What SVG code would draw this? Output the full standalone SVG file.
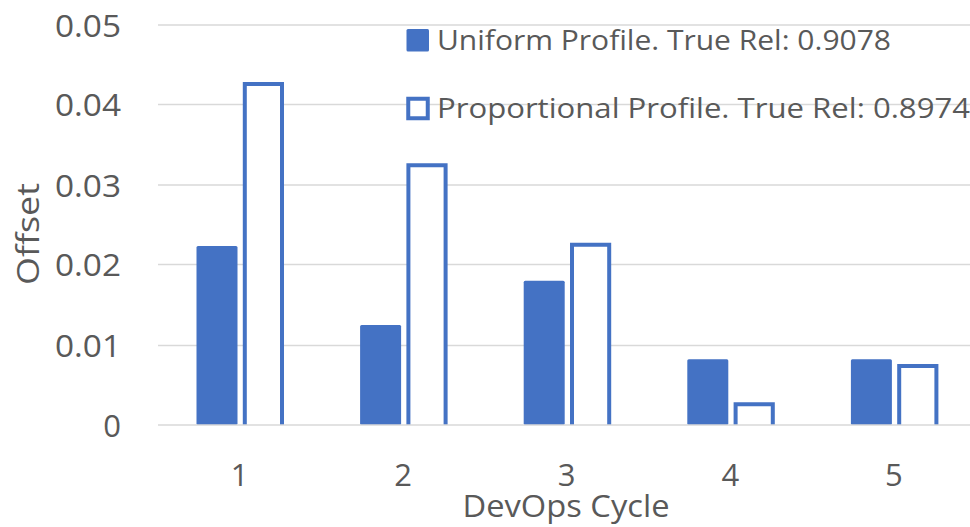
<svg xmlns="http://www.w3.org/2000/svg" width="970" height="527" viewBox="0 0 970 527">
  <style>
    .grid { stroke: #d9d9d9; stroke-width: 1.5; fill: none; }
    .solid { fill: #4472c4; }
    .hollow { fill: #ffffff; stroke: #4472c4; stroke-width: 4; stroke-linejoin: miter; }
    .txt { font-family: "Open Sans", "Liberation Sans", sans-serif; fill: #595959; }
    .tick { font-size: 31px; }
    .ytick { text-anchor: end; }
    .xtick { text-anchor: middle; }
    .title { font-size: 31px; }
    .legend { font-size: 27px; }
  </style>

  <rect x="0" y="0" width="970" height="527" fill="#ffffff"/>

  <!-- horizontal gridlines, 0.01 apart -->
  <g id="gridlines">
    <line class="grid" x1="158" y1="25" x2="970" y2="25"/>
    <line class="grid" x1="158" y1="104.5" x2="970" y2="104.5"/>
    <line class="grid" x1="158" y1="185" x2="970" y2="185"/>
    <line class="grid" x1="158" y1="264.5" x2="970" y2="264.5"/>
    <line class="grid" x1="158" y1="345.5" x2="970" y2="345.5"/>
  </g>

  <!-- Uniform profile series (filled bars) -->
  <g id="series-uniform">
    <rect id="u1" class="solid" x="196.5" y="246" width="41" height="179" rx="1.5"/>
    <rect id="u2" class="solid" x="360.1" y="325" width="41" height="100" rx="1.5"/>
    <rect id="u3" class="solid" x="523.7" y="280.7" width="41" height="144.3" rx="1.5"/>
    <rect id="u4" class="solid" x="687.3" y="359.3" width="41" height="65.7" rx="1.5"/>
    <rect id="u5" class="solid" x="850.9" y="359.3" width="41" height="65.7" rx="1.5"/>
  </g>

  <!-- Proportional profile series (outlined bars, open at the base) -->
  <g id="series-proportional">
    <path id="p1" class="hollow" d="M244.8,425 V84 H282 V425"/>
    <path id="p2" class="hollow" d="M408.4,425 V165.3 H445.6 V425"/>
    <path id="p3" class="hollow" d="M572,425 V244.7 H609.2 V425"/>
    <path id="p4" class="hollow" d="M735.6,425 V404.3 H772.8 V425"/>
    <path id="p5" class="hollow" d="M899.2,425 V366 H936.4 V425"/>
  </g>

  <!-- category axis line -->
  <g id="axis">
    <line class="grid" x1="158" y1="425" x2="970" y2="425"/>
  </g>

  <!-- value axis labels -->
  <g id="y-ticks" class="txt tick ytick">
    <text x="121" y="36.5" textLength="66" lengthAdjust="spacingAndGlyphs">0.05</text>
    <text x="121" y="116" textLength="66" lengthAdjust="spacingAndGlyphs">0.04</text>
    <text x="121" y="196.5" textLength="66" lengthAdjust="spacingAndGlyphs">0.03</text>
    <text x="121" y="276" textLength="66" lengthAdjust="spacingAndGlyphs">0.02</text>
    <text x="121" y="357" textLength="66" lengthAdjust="spacingAndGlyphs">0.01</text>
    <text x="121" y="436.5">0</text>
  </g>

  <!-- category labels -->
  <g id="x-ticks" class="txt tick xtick">
    <text x="239.5" y="486">1</text>
    <text x="403.1" y="486">2</text>
    <text x="566.7" y="486">3</text>
    <text x="730.3" y="486">4</text>
    <text x="893.9" y="486">5</text>
  </g>

  <!-- axis titles -->
  <g id="x-title">
    <text class="txt title" x="566" y="517" text-anchor="middle" textLength="207" lengthAdjust="spacingAndGlyphs">DevOps Cycle</text>
  </g>
  <g id="y-title">
    <text class="txt title" transform="translate(39,234) rotate(-90)" x="0" y="0" text-anchor="middle" textLength="102" lengthAdjust="spacingAndGlyphs">Offset</text>
  </g>

  <!-- legend -->
  <g id="legend">
    <g id="legend-uniform">
      <rect class="solid" x="406.5" y="29" width="22.5" height="22.5" rx="1.5"/>
      <text class="txt legend" x="437" y="50" textLength="454" lengthAdjust="spacingAndGlyphs">Uniform Profile. True Rel: 0.9078</text>
    </g>
    <g id="legend-proportional">
      <rect class="hollow" x="408.25" y="98.75" width="19.5" height="19.5" stroke-width="3.5"/>
      <text class="txt legend" x="437" y="118" textLength="533" lengthAdjust="spacingAndGlyphs">Proportional Profile. True Rel: 0.8974</text>
    </g>
  </g>
</svg>
